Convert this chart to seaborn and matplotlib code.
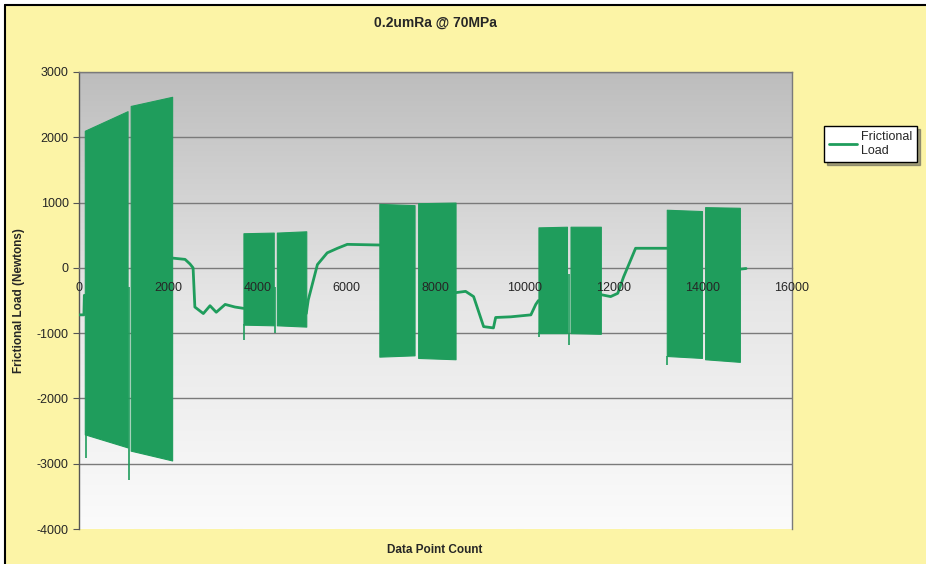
# Frictional load vs data point count (Excel style chart)

import matplotlib.pyplot as plt
import seaborn as sns
import pandas as pd
import numpy as np

# slow trace between the oscillating blocks
seg_id = [0, 0, 0,
          1, 1, 1, 1, 1, 1, 1, 1, 1, 1, 1,
          2, 2, 2, 2, 2, 2, 2,
          3, 3, 3, 3, 3, 3, 3, 3, 3, 3,
          4, 4, 4, 4, 4, 4, 4,
          5, 5]
trace_x = [0, 110, 120,
           2090, 2380, 2490, 2560, 2600, 2790, 2940, 3080, 3280, 3500, 3690,
           5100, 5145, 5350, 5570, 5800, 6020, 6740,
           8450, 8675, 8855, 9080, 9300, 9350, 9690, 10140, 10250, 10310,
           11710, 11930, 12090, 12220, 12380, 12490, 13190,
           14830, 14970]
trace_y = [-720, -720, -420,
           150, 130, 60, 0, -600, -700, -580, -680, -560, -600, -620,
           -700, -490, 50, 230, 300, 360, 350,
           -380, -360, -440, -900, -920, -760, -750, -720, -560, -500,
           -410, -440, -390, -140, 120, 300, 300,
           -20, -10]

# oscillating blocks: start/end count, upper envelope, lower envelope
block_x0 = [130, 1160, 3690, 4440, 6740, 7610, 10310, 11030, 13190, 14050]
block_x1 = [1090, 2090, 4370, 5100, 7530, 8450, 10950, 11710, 13980, 14830]
block_top0 = [2100, 2480, 530, 540, 980, 990, 620, 630, 890, 930]
block_top1 = [2400, 2620, 540, 560, 960, 1000, 630, 630, 870, 920]
block_bot0 = [-2550, -2800, -870, -880, -1360, -1380, -1000, -1000, -1350, -1400]
block_bot1 = [-2750, -2950, -880, -900, -1340, -1400, -1000, -1010, -1380, -1440]

# single spikes
spike_x = [150, 1130, 3700, 4400, 10320, 11000, 13200]
spike_top = [-2500, -300, -860, -300, -990, -100, -1350]
spike_low = [-2920, -3250, -1100, -1000, -1060, -1180, -1490]

green = '#1f9d5c'
yellow = '#fcf4a6'

sns.set_style('white')
plt.rcParams['font.family'] = ['Liberation Sans', 'DejaVu Sans']
plt.rcParams['axes.unicode_minus'] = False

fig = plt.figure(figsize=(9.26, 5.64), dpi=100, facecolor='white')
fig.patches.append(plt.Rectangle((5 / 926, 0), 1, 1 - 5 / 564, transform=fig.transFigure,
                                 facecolor=yellow, edgecolor='none', zorder=-10))
fig.add_artist(plt.Line2D([5 / 926, 5 / 926], [0, 1 - 5 / 564], color='black', lw=1.5,
                          transform=fig.transFigure))
fig.add_artist(plt.Line2D([5 / 926, 1], [1 - 5 / 564, 1 - 5 / 564], color='black', lw=1.5,
                          transform=fig.transFigure))

ax = fig.add_axes([79 / 926, 1 - 529 / 564, (792 - 79) / 926, (529 - 72) / 564])

# gray-to-white background gradient
grad = np.linspace(0, 1, 256).reshape(-1, 1)
ax.imshow(grad, extent=[0, 16000, -4000, 3000], aspect='auto', origin='upper',
          cmap=sns.blend_palette(['#bdbdbd', '#e6e6e6', '#fbfbfb'], as_cmap=True),
          zorder=0)

for yv in [-3000, -2000, -1000, 1000, 2000, 3000]:
    ax.axhline(yv, color='#7a7a7a', lw=1.0, zorder=1)

for i in range(len(block_x0)):
    ax.fill_between([block_x0[i], block_x1[i]], [block_bot0[i], block_bot1[i]],
                    [block_top0[i], block_top1[i]], color=green, lw=0.8,
                    edgecolor=green, zorder=3)
ax.vlines(spike_x, spike_low, spike_top, color=green, lw=1.2, zorder=3)

df = pd.DataFrame({'seg': seg_id, 'x': trace_x, 'y': trace_y})
sns.lineplot(data=df, x='x', y='y', units='seg', estimator=None, sort=False,
             color=green, lw=2, ax=ax, zorder=4)

ax.set_xlim(0, 16000)
ax.set_ylim(-4000, 3000)
ax.set_xticks(range(0, 16001, 2000))
ax.set_yticks(range(-4000, 3001, 1000))
ax.spines['bottom'].set_position(('data', 0))
for s in ax.spines.values():
    s.set_color('#7a7a7a')
    s.set_linewidth(1.0)
ax.spines['left'].set_color('#555555')
ax.xaxis.set_zorder(6)
ax.tick_params(axis='x', direction='inout', length=4, color='#555555', labelsize=9, pad=8)
ax.tick_params(axis='y', direction='out', length=4, color='#555555', labelsize=9, left=True)
ax.set_xlabel('')
ax.set_ylabel('Frictional Load (Newtons)', fontsize=8.5, fontweight='bold', labelpad=8)

fig.text(435 / 926, 1 - 550 / 564, 'Data Point Count', ha='center', va='center',
         fontsize=8.5, fontweight='bold')
fig.text(435 / 926, 1 - 23 / 564, '0.2umRa @ 70MPa', ha='center', va='center',
         fontsize=10, fontweight='bold')

h = plt.Line2D([], [], color=green, lw=2)
leg = fig.legend([h], ['Frictional\nLoad'], loc='upper left',
                 bbox_to_anchor=(818 / 926, 1 - 120 / 564), fontsize=9,
                 frameon=True, fancybox=False, shadow=True, borderpad=0.4,
                 handlelength=2.2, handletextpad=0.3)
leg.get_frame().set_edgecolor('black')
leg.get_frame().set_facecolor('white')

fig.savefig('out.png', dpi=100, facecolor=fig.get_facecolor())
